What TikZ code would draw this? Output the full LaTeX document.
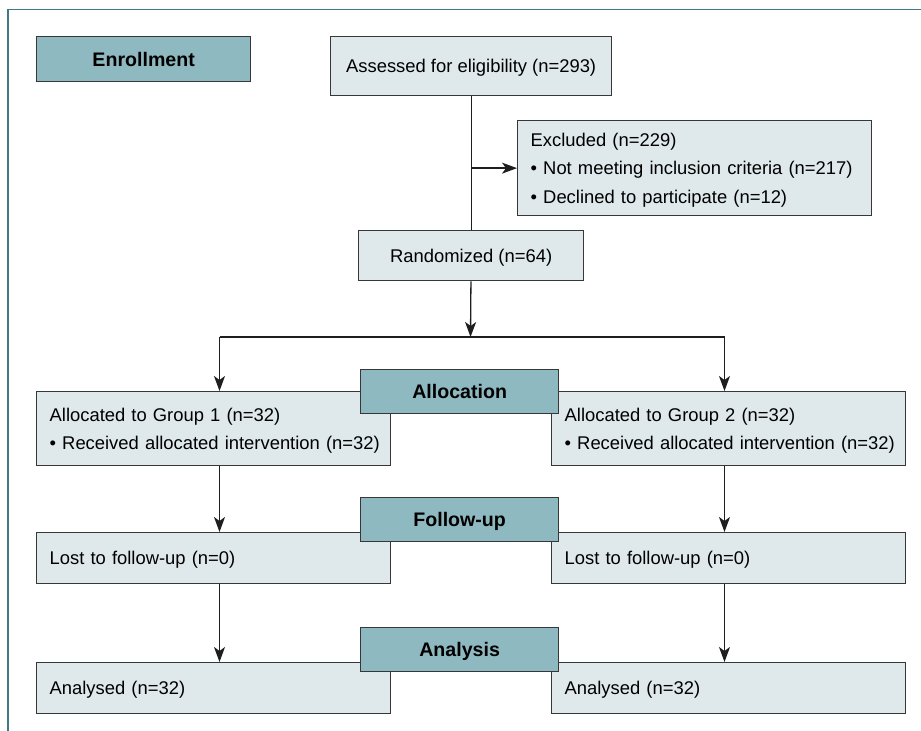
\documentclass[tikz,border=0pt]{standalone}
\usepackage{fontspec}
\setmainfont{Liberation Sans}
\usepackage{xcolor}
\usetikzlibrary{arrows.meta}

\definecolor{boxfill}{RGB}{223,233,235}
\definecolor{headfill}{RGB}{143,185,192}
\definecolor{boxline}{RGB}{55,55,55}
\definecolor{arrline}{RGB}{30,30,30}
\definecolor{frameline}{RGB}{62,122,134}

\begin{document}
\begin{tikzpicture}[x=0.5pt,y=-0.5pt,
	every node/.style={font=\fontsize{9.2pt}{14.3pt}\selectfont},
	box/.style={draw=boxline,fill=boxfill,line width=0.65pt,anchor=north west,inner xsep=6.5pt,inner ysep=0pt,minimum height=#1},
	head/.style={box=#1,fill=headfill,font=\fontsize{9.8pt}{12pt}\selectfont\bfseries,minimum width=99pt,text depth=0pt},
	lines/.style={text depth=#1*14.3pt-14.3pt},
	line/.style={draw=arrline,line width=0.65pt},
	arr/.style={line,-{Stealth[length=7.5pt,width=5.5pt,inset=2pt]}}]
	\useasboundingbox (0,0) rectangle (921,731);
	\draw[frameline,line width=0.8pt] (8,731) -- (8,9.5) -- (921,9.5);
	
	% enrollment
	\node[head=22.5pt,minimum width=107pt] (enrol) at (36,36) {Enrollment};
	\node[box=29.5pt,lines=1,minimum width=140.5pt] (assess) at (330,36) {Assessed for eligibility (n=293)};
	\node[box=47.5pt,lines=3,text width=164pt,align=left] (excl) at (517,120) {Excluded (n=229)\\ \textbullet\ Not meeting inclusion criteria (n=217)\\ \textbullet\ Declined to participate (n=12)};
	\node[box=25pt,lines=1,minimum width=112.5pt] (rand) at (358,230) {Randomized (n=64)};
	
	% two groups
	\node[box=37pt,lines=2,text width=164pt,align=left] (grp1) at (36,391) {Allocated to Group 1 (n=32)\\ \mbox{\textbullet\ Received allocated intervention (n=32)}};
	\node[box=37pt,lines=2,text width=164pt,align=left] (grp2) at (551,391) {Allocated to Group 2 (n=32)\\ \mbox{\textbullet\ Received allocated intervention (n=32)}};
	\node[box=25.5pt,lines=1,text width=164pt,align=left] (lost1) at (36,532) {Lost to follow-up (n=0)};
	\node[box=25.5pt,lines=1,text width=164pt,align=left] (lost2) at (551,532) {Lost to follow-up (n=0)};
	\node[box=25.5pt,lines=1,text width=164pt,align=left] (anal1) at (36,662) {Analysed (n=32)};
	\node[box=25.5pt,lines=1,text width=164pt,align=left] (anal2) at (551,662) {Analysed (n=32)};
	
	% stage labels
	\node[head=22pt] (alloc) at (360,369) {Allocation};
	\node[head=22pt] (follow) at (360,497) {Follow-up};
	\node[head=22pt] (analysis) at (360,627) {Analysis};
	
	\coordinate (split) at (470.5,337);
	\coordinate (lft) at (219.5,337);
	\coordinate (rgt) at (724.5,337);
	
	\draw[line] (assess) -- (rand);
	\draw[arr] (assess.south |- excl.west) -- (excl.west);
	\draw[arr] (rand) -- (split);
	\draw[line] (lft) -- (rgt);
	\draw[arr] (lft) -- (lft |- grp1.north);
	\draw[arr] (rgt) -- (rgt |- grp2.north);
	\draw[arr] (lft |- grp1.south) -- (lft |- lost1.north);
	\draw[arr] (rgt |- grp2.south) -- (rgt |- lost2.north);
	\draw[arr] (lft |- lost1.south) -- (lft |- anal1.north);
	\draw[arr] (rgt |- lost2.south) -- (rgt |- anal2.north);
\end{tikzpicture}
\end{document}
